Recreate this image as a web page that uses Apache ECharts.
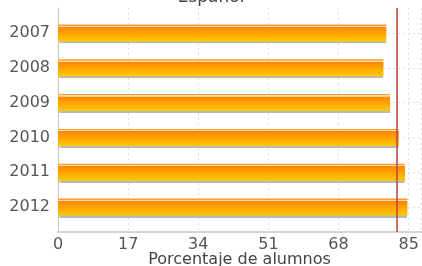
<!DOCTYPE html>
<html>
<head>
<meta charset="utf-8">
<script src="https://cdn.jsdelivr.net/npm/echarts@6/dist/echarts.min.js"></script>
<style>
  html, body { margin: 0; padding: 0; background: #fff; }
  #chart { width: 422px; height: 266px; }
</style>
</head>
<body>
<div id="chart"></div>
<script>
// datos del gráfico
const years = ['2007', '2008', '2009', '2010', '2011', '2012'];
const porcentajes = [79.6, 78.9, 80.5, 82.6, 84.1, 84.7];
const referencia = 82;
const xTicks = [0, 17, 34, 51, 68, 85];

const font = 'DejaVu Sans';
const chart = echarts.init(document.getElementById('chart'));

const barColor = new echarts.graphic.LinearGradient(0, 0, 0, 1, [
  { offset: 0, color: '#ff9a30' },
  { offset: 0.07, color: '#ff9a30' },
  { offset: 0.08, color: '#ffdcaa' },
  { offset: 0.14, color: '#ffdcaa' },
  { offset: 0.15, color: '#ff8600' },
  { offset: 1, color: '#ffca00' }
]);

const option = {
  animation: false,
  textStyle: { fontFamily: font },
  title: {
    text: 'Español',
    left: 'center',
    top: -16,
    textStyle: { fontFamily: font, fontSize: 17, fontWeight: 'normal', color: '#444' }
  },
  grid: [
    // marco y eje x
    { left: 58, right: 1, top: 8, bottom: 34, outerBoundsMode: 'none' },
    // barras
    { left: 58, right: 1, top: 15.5, bottom: 41.5, outerBoundsMode: 'none' },
    // líneas horizontales en el centro de cada categoría
    { left: 58, right: 1, top: 33, bottom: 59, outerBoundsMode: 'none' }
  ],
  xAxis: [
    {
      gridIndex: 0, type: 'value', min: 0, max: 88, interval: 17,
      name: 'Porcentaje de alumnos', nameLocation: 'middle', nameGap: 20,
      nameMoveOverlap: false,
      nameTextStyle: { fontFamily: font, fontSize: 16, color: '#444' },
      axisLine: { show: true, lineStyle: { color: '#c8c8c8', width: 2 } },
      axisTick: { show: false },
      axisLabel: {
        showMaxLabel: false, fontFamily: font, fontSize: 16, color: '#555', margin: 5,
        formatter: v => xTicks.includes(v) ? String(v) : ''
      },
      splitLine: { show: true, lineStyle: { color: '#dedede', type: [2, 3] } }
    },
    {
      gridIndex: 0, type: 'value', min: 0, max: 88, position: 'top',
      axisLine: { show: true, lineStyle: { color: '#d4d4d4', width: 2 } },
      axisTick: { show: false }, axisLabel: { show: false }, splitLine: { show: false }
    },
    { gridIndex: 1, type: 'value', min: 0, max: 88, show: false },
    { gridIndex: 2, type: 'value', min: 0, max: 88, show: false }
  ],
  yAxis: [
    {
      gridIndex: 0, type: 'value', min: 0, max: 1,
      axisLine: { show: true, lineStyle: { color: '#c8c8c8', width: 1 } },
      axisTick: { show: false }, axisLabel: { show: false }, splitLine: { show: false }
    },
    {
      gridIndex: 0, type: 'value', min: 0, max: 1, position: 'left', offset: 3,
      axisLine: { show: true, lineStyle: { color: '#c8c8c8', width: 1 } },
      axisTick: { show: false }, axisLabel: { show: false }, splitLine: { show: false }
    },
    {
      gridIndex: 1, type: 'category', data: years, inverse: true,
      axisLine: { show: false }, axisTick: { show: false },
      axisLabel: { fontFamily: font, fontSize: 16, color: '#555', margin: 8 },
      splitLine: { show: false }
    },
    {
      gridIndex: 2, type: 'value', min: 0, max: 5, interval: 1,
      axisLine: { show: false }, axisTick: { show: false }, axisLabel: { show: false },
      splitLine: { show: true, lineStyle: { color: '#dedede', type: [2, 3] } }
    }
  ],
  series: [
    {
      type: 'bar',
      xAxisIndex: 2, yAxisIndex: 2,
      data: porcentajes,
      barWidth: 17,
      itemStyle: {
        color: barColor,
        shadowColor: 'rgba(0,0,0,0.28)', shadowOffsetY: 2, shadowBlur: 1
      },
      z: 3
    },
    {
      type: 'line',
      xAxisIndex: 0, yAxisIndex: 0,
      data: [],
      markLine: {
        silent: true, symbol: 'none', label: { show: false },
        lineStyle: { color: 'rgba(196,70,70,0.8)', width: 2, type: 'solid' },
        data: [{ xAxis: referencia }]
      },
      z: 5
    }
  ]
};

chart.setOption(option);
</script>
</body>
</html>
